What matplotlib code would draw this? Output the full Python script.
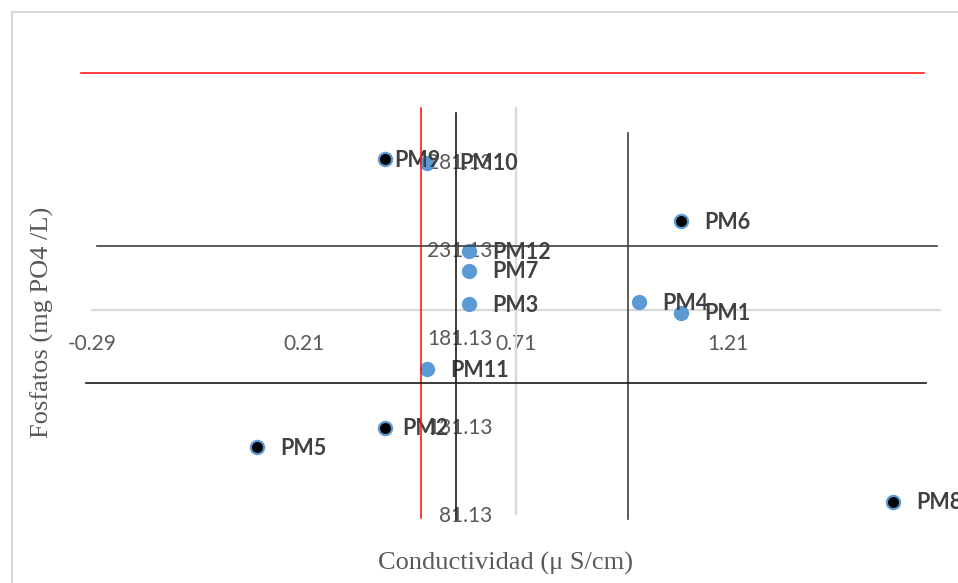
import numpy as np
import matplotlib.pyplot as plt
from matplotlib.patches import Rectangle

# data (conductividad, fosfatos)
blue_names = ['PM1', 'PM3', 'PM4', 'PM7', 'PM10', 'PM11', 'PM12']
blue_x = [1.10, 0.60, 1.00, 0.60, 0.50, 0.50, 0.60]
blue_y = [195, 200, 201, 219, 280, 163, 230]

black_names = ['PM2', 'PM5', 'PM6', 'PM8', 'PM9']
black_x = [0.40, 0.10, 1.10, 1.60, 0.40]
black_y = [130, 119, 247, 88, 282]

x_ticks = [-0.29, 0.21, 0.71, 1.21]
y_ticks = [81.13, 131.13, 181.13, 231.13, 281.13]

# hand drawn quadrant lines: (x0, x1, y0, y1, color)
guide_lines = [
    (-0.316, 1.673, 331.0, 331.0, '#ff1a1a'),
    (0.487, 0.487, 311.1, 78.9, '#ff1a1a'),
    (0.568, 0.568, 308.3, 77.7, '#1a1a1a'),
    (0.973, 0.973, 297.0, 78.3, '#404040'),
    (-0.278, 1.702, 233.2, 233.2, '#404040'),
    (-0.304, 1.676, 155.35, 155.35, '#1a1a1a'),
]

# label offsets in pixels (a few were moved by hand)
label_dx = {'PM9': 10, 'PM2': 18, 'PM10': 32}

W, H = 958, 583
fig = plt.figure(figsize=(W / 100, H / 100), dpi=100)
ax = fig.add_axes([92 / W, 1 - 514 / H, (940 - 92) / W, (514 - 108) / H])
ax.set_xlim(-0.29, 1.71)
ax.set_ylim(81.13, 311.13)

ax.spines['top'].set_visible(False)
ax.spines['right'].set_visible(False)
ax.spines['left'].set_position(('data', 0.71))
ax.spines['bottom'].set_position(('data', 196.6))
for s in ['left', 'bottom']:
    ax.spines[s].set_color('#d9d9d9')
    ax.spines[s].set_linewidth(1.6)

ax.set_xticks(x_ticks)
ax.set_xticklabels(['%.2f' % v for v in x_ticks])
ax.set_yticks(y_ticks)
ax.set_yticklabels(['%.2f' % v for v in y_ticks])
ax.tick_params(axis='both', length=0, labelsize=15, labelcolor='#595959')
ax.tick_params(axis='x', pad=17)
ax.tick_params(axis='y', pad=17)
for lab in ax.get_xticklabels() + ax.get_yticklabels():
    lab.set_fontfamily('Lato')

ax.plot(blue_x, blue_y, 'o', color='#5b9bd5', markersize=10, zorder=3, clip_on=False)
ax.plot(black_x, black_y, 'o', markerfacecolor='black', markeredgecolor='#5b9bd5',
        markeredgewidth=1.6, markersize=9.5, zorder=3, clip_on=False)

for name, x, y in list(zip(blue_names, blue_x, blue_y)) + list(zip(black_names, black_x, black_y)):
    ax.annotate(name, (x, y), xytext=(label_dx.get(name, 23), -1), textcoords='offset pixels',
                ha='left', va='center', fontsize=15.5, fontweight='bold',
                color='#404040', family='Lato', zorder=4, annotation_clip=False)

for x0, x1, y0, y1, c in guide_lines:
    ax.plot([x0, x1], [y0, y1], color=c, linewidth=1.2, zorder=5, clip_on=False)

fig.text(505 / W, 1 - 563 / H, 'Conductividad (\u03bc S/cm)', ha='center', va='center',
         fontsize=19, color='#595959', family='Liberation Serif')
fig.text(42 / W, 1 - 322 / H, 'Fosfatos (mg PO4 /L)', ha='center', va='center',
         rotation=90, fontsize=19, color='#595959', family='Liberation Serif')

fig.patches.append(Rectangle((12 / W, -0.1), 1.2, 1.1 - 12 / H, transform=fig.transFigure,
                             fill=False, edgecolor='#d9d9d9', linewidth=1.5))

fig.savefig('out.png', dpi=100)
